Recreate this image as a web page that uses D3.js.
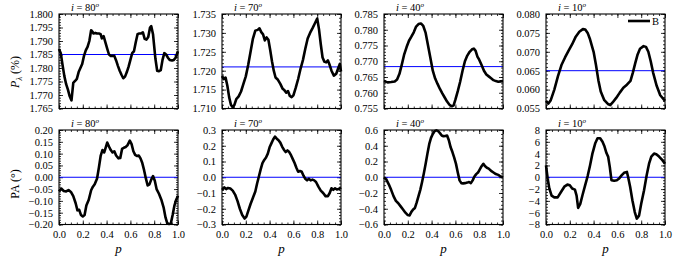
<!DOCTYPE html>
<html>
<head>
<meta charset="utf-8">
<script src="https://cdn.jsdelivr.net/npm/d3@7"></script>
<style>
  body { margin: 0; background: #fff; }
</style>
</head>
<body>
<svg id="chart" width="684" height="260"></svg>
<script>
// inclinations, one column each
const inclinations = [80, 70, 40, 10];
const xTicks = [0, 0.2, 0.4, 0.6, 0.8, 1.0];

// P_lambda (%) against phase p, [p, value]
const pol80 = [[0,1.7870],[0.015,1.7855],[0.03,1.7810],[0.045,1.7770],[0.06,1.7740],[0.075,1.7720],[0.09,1.7695],[0.105,1.7680],[0.12,1.7745],[0.135,1.7752],[0.15,1.7760],[0.165,1.7785],[0.18,1.7800],[0.195,1.7815],[0.21,1.7845],[0.225,1.7865],[0.24,1.7878],[0.255,1.7900],[0.27,1.7940],[0.28,1.7935],[0.29,1.7928],[0.305,1.7930],[0.32,1.7928],[0.335,1.7928],[0.35,1.7925],[0.36,1.7910],[0.375,1.7918],[0.39,1.7895],[0.405,1.7872],[0.42,1.7850],[0.435,1.7845],[0.45,1.7845],[0.465,1.7845],[0.48,1.7828],[0.495,1.7808],[0.51,1.7790],[0.525,1.7775],[0.54,1.7762],[0.555,1.7768],[0.57,1.7785],[0.585,1.7805],[0.6,1.7830],[0.615,1.7855],[0.63,1.7862],[0.645,1.7895],[0.66,1.7925],[0.675,1.7928],[0.69,1.7928],[0.705,1.7932],[0.72,1.7908],[0.735,1.7905],[0.75,1.7915],[0.765,1.7950],[0.775,1.7955],[0.79,1.7925],[0.8,1.7880],[0.81,1.7835],[0.825,1.7790],[0.84,1.7788],[0.855,1.7792],[0.87,1.7830],[0.885,1.7855],[0.9,1.7850],[0.915,1.7838],[0.93,1.7830],[0.95,1.7828],[0.965,1.7830],[0.98,1.7838],[1,1.7862]];
const pol70 = [[0,1.7186],[0.015,1.7178],[0.03,1.7182],[0.045,1.7160],[0.06,1.7130],[0.075,1.7110],[0.09,1.7103],[0.105,1.7110],[0.12,1.7125],[0.14,1.7132],[0.16,1.7145],[0.18,1.7165],[0.2,1.7185],[0.22,1.7215],[0.24,1.7250],[0.26,1.7285],[0.28,1.7306],[0.3,1.7308],[0.315,1.7312],[0.33,1.7302],[0.345,1.7296],[0.36,1.7280],[0.375,1.7288],[0.39,1.7282],[0.405,1.7255],[0.42,1.7225],[0.435,1.7200],[0.45,1.7182],[0.47,1.7176],[0.49,1.7165],[0.51,1.7152],[0.525,1.7148],[0.54,1.7142],[0.555,1.7146],[0.57,1.7133],[0.585,1.7130],[0.6,1.7135],[0.62,1.7155],[0.64,1.7178],[0.66,1.7205],[0.68,1.7228],[0.7,1.7258],[0.72,1.7285],[0.74,1.7300],[0.76,1.7312],[0.78,1.7325],[0.8,1.7338],[0.815,1.7310],[0.83,1.7270],[0.845,1.7235],[0.86,1.7224],[0.875,1.7222],[0.89,1.7227],[0.905,1.7215],[0.92,1.7200],[0.94,1.7187],[0.96,1.7192],[0.975,1.7205],[0.99,1.7218],[1,1.7198]];
const pol40 = [[0,0.7637],[0.03,0.7633],[0.06,0.7634],[0.09,0.7636],[0.11,0.7642],[0.13,0.7660],[0.15,0.7690],[0.17,0.7722],[0.19,0.7745],[0.21,0.7765],[0.23,0.7778],[0.25,0.7792],[0.27,0.7810],[0.29,0.7818],[0.31,0.7820],[0.33,0.7812],[0.35,0.7790],[0.37,0.7750],[0.39,0.7710],[0.41,0.7670],[0.43,0.7645],[0.45,0.7628],[0.47,0.7612],[0.49,0.7598],[0.51,0.7585],[0.53,0.7572],[0.55,0.7562],[0.57,0.7557],[0.585,0.7560],[0.6,0.7578],[0.62,0.7605],[0.64,0.7635],[0.66,0.7670],[0.68,0.7700],[0.7,0.7718],[0.72,0.7730],[0.74,0.7738],[0.755,0.7740],[0.77,0.7733],[0.785,0.7715],[0.8,0.7705],[0.82,0.7688],[0.84,0.7670],[0.86,0.7658],[0.88,0.7652],[0.9,0.7646],[0.92,0.7640],[0.94,0.7637],[0.96,0.7635],[0.98,0.7636],[1,0.7637]];
const pol10 = [[0,0.0570],[0.02,0.0563],[0.04,0.0572],[0.07,0.0600],[0.1,0.0635],[0.13,0.0665],[0.16,0.0685],[0.19,0.0703],[0.22,0.0720],[0.25,0.0740],[0.28,0.0753],[0.31,0.0760],[0.33,0.0759],[0.35,0.0750],[0.37,0.0733],[0.4,0.0700],[0.42,0.0665],[0.44,0.0625],[0.46,0.0595],[0.49,0.0572],[0.52,0.0562],[0.54,0.0559],[0.56,0.0566],[0.59,0.0578],[0.62,0.0592],[0.65,0.0605],[0.68,0.0613],[0.71,0.0623],[0.73,0.0645],[0.75,0.0670],[0.77,0.0693],[0.79,0.0708],[0.82,0.0715],[0.84,0.0713],[0.86,0.0700],[0.88,0.0675],[0.9,0.0645],[0.93,0.0610],[0.96,0.0585],[1,0.0570]];

// PA (deg) against phase p, [p, value]
const pa80 = [[0,-0.060],[0.02,-0.048],[0.04,-0.058],[0.06,-0.060],[0.08,-0.054],[0.1,-0.062],[0.12,-0.080],[0.14,-0.110],[0.155,-0.140],[0.17,-0.138],[0.185,-0.160],[0.2,-0.166],[0.215,-0.160],[0.23,-0.120],[0.25,-0.095],[0.27,-0.055],[0.285,-0.040],[0.3,-0.030],[0.32,-0.005],[0.335,0.040],[0.35,0.090],[0.365,0.115],[0.38,0.105],[0.395,0.130],[0.405,0.147],[0.42,0.130],[0.435,0.115],[0.45,0.105],[0.465,0.110],[0.48,0.092],[0.5,0.080],[0.515,0.082],[0.53,0.120],[0.545,0.125],[0.56,0.128],[0.575,0.135],[0.595,0.155],[0.61,0.140],[0.625,0.110],[0.64,0.095],[0.655,0.090],[0.67,0.092],[0.685,0.080],[0.7,0.060],[0.715,0.030],[0.73,-0.005],[0.745,-0.035],[0.76,-0.030],[0.775,-0.010],[0.79,0.005],[0.805,-0.015],[0.82,-0.050],[0.84,-0.070],[0.86,-0.095],[0.88,-0.130],[0.895,-0.170],[0.91,-0.195],[0.925,-0.198],[0.94,-0.195],[0.955,-0.160],[0.97,-0.120],[0.985,-0.095],[1,-0.078]];
const pa70 = [[0,-0.080],[0.02,-0.065],[0.035,-0.075],[0.05,-0.068],[0.07,-0.072],[0.09,-0.085],[0.11,-0.110],[0.13,-0.150],[0.15,-0.200],[0.17,-0.240],[0.19,-0.262],[0.205,-0.250],[0.22,-0.215],[0.24,-0.170],[0.26,-0.130],[0.28,-0.090],[0.295,-0.040],[0.31,0.005],[0.325,0.050],[0.34,0.090],[0.355,0.110],[0.37,0.125],[0.385,0.150],[0.4,0.190],[0.415,0.215],[0.43,0.240],[0.445,0.258],[0.46,0.245],[0.475,0.235],[0.49,0.220],[0.505,0.195],[0.52,0.175],[0.535,0.160],[0.55,0.170],[0.565,0.160],[0.58,0.140],[0.595,0.115],[0.61,0.090],[0.625,0.060],[0.64,0.035],[0.655,0.040],[0.67,0.035],[0.685,0.010],[0.7,-0.010],[0.715,-0.020],[0.73,-0.010],[0.745,-0.020],[0.76,-0.015],[0.775,-0.020],[0.79,-0.030],[0.81,-0.060],[0.83,-0.085],[0.85,-0.100],[0.87,-0.120],[0.89,-0.120],[0.905,-0.100],[0.92,-0.070],[0.935,-0.080],[0.95,-0.070],[0.965,-0.078],[0.98,-0.075],[1,-0.065]];
const pa40 = [[0,0.00],[0.02,-0.03],[0.04,-0.09],[0.06,-0.16],[0.08,-0.24],[0.1,-0.30],[0.12,-0.33],[0.14,-0.37],[0.16,-0.41],[0.18,-0.45],[0.2,-0.48],[0.215,-0.485],[0.23,-0.44],[0.245,-0.41],[0.26,-0.39],[0.275,-0.32],[0.29,-0.24],[0.305,-0.16],[0.32,-0.06],[0.335,0.05],[0.35,0.17],[0.365,0.30],[0.38,0.42],[0.395,0.50],[0.41,0.55],[0.425,0.585],[0.44,0.595],[0.455,0.585],[0.47,0.56],[0.485,0.53],[0.5,0.52],[0.515,0.525],[0.53,0.53],[0.545,0.47],[0.56,0.38],[0.575,0.32],[0.59,0.25],[0.605,0.17],[0.62,0.06],[0.635,-0.04],[0.65,-0.075],[0.665,-0.078],[0.68,-0.075],[0.7,-0.068],[0.715,-0.06],[0.73,-0.075],[0.745,-0.04],[0.76,0.01],[0.775,0.04],[0.79,0.06],[0.805,0.10],[0.82,0.14],[0.835,0.17],[0.85,0.14],[0.865,0.12],[0.88,0.11],[0.9,0.08],[0.92,0.06],[0.94,0.04],[0.96,0.03],[0.98,0.01],[1,0.00]];
const pa10 = [[0,2.0],[0.014,-0.2],[0.028,-1.9],[0.047,-3.1],[0.07,-3.4],[0.098,-3.4],[0.126,-2.5],[0.154,-1.6],[0.18,-1.25],[0.2,-1.35],[0.22,-1.9],[0.243,-2.1],[0.257,-3.1],[0.27,-5.2],[0.288,-4.5],[0.307,-3.0],[0.327,-1.5],[0.35,0.2],[0.37,2.0],[0.39,4.0],[0.413,5.7],[0.433,6.6],[0.455,6.6],[0.475,6.0],[0.49,5.3],[0.508,4.1],[0.522,3.5],[0.536,1.75],[0.55,-0.5],[0.573,-0.6],[0.595,-0.5],[0.615,-0.2],[0.637,0.35],[0.656,0.75],[0.68,0.9],[0.69,0.05],[0.707,-1.6],[0.726,-3.9],[0.746,-5.9],[0.763,-7.0],[0.782,-6.5],[0.8,-4.5],[0.824,-2.2],[0.846,0.35],[0.866,2.3],[0.885,3.5],[0.908,4.0],[0.927,3.9],[0.95,3.5],[0.978,2.9],[1,2.3]];

// axis ranges, tick steps and mean (blue) levels
const polDomains = [[1.765, 1.800], [1.710, 1.735], [0.755, 0.785], [0.055, 0.080]];
const paDomains = [[-0.2, 0.2], [-0.3, 0.3], [-0.6, 0.6], [-8, 8]];
const polSteps = [0.005, 0.005, 0.005, 0.005];
const paSteps = [0.05, 0.1, 0.2, 2];
const polMeans = [1.785, 1.721, 0.7683, 0.0650];
const paMeans = [0, 0, 0, 0];

const FONT = "'Liberation Serif', 'DejaVu Serif', 'Times New Roman', serif";
const svg = d3.select("#chart").style("font-family", FONT);
const lefts = [59, 222, 384, 546];
const tops = [14, 130];
const w = 119, h = 94.5;

function tickRange(d, step) {
  const n = Math.round((d[1] - d[0]) / step);
  return d3.range(n + 1).map(i => +(d[0] + i * step).toFixed(6));
}

function drawPanel(row, col, data, domain, step, minorDivs, fmt, mean) {
  const g = svg.append("g").attr("transform", "translate(" + lefts[col] + "," + tops[row] + ")");
  const x = d3.scaleLinear().domain([0, 1]).range([0, w]);
  const y = d3.scaleLinear().domain(domain).range([h, 0]);

  const major = tickRange(domain, step);
  const minor = tickRange(domain, step / minorDivs);
  const xMinor = tickRange([0, 1], 0.05);

  // inward ticks on all four sides
  const sides = [
    [d3.axisLeft(y), 0, 0, major, minor, fmt],
    [d3.axisRight(y), w, 0, major, minor, null],
    [d3.axisTop(x), 0, 0, xTicks, xMinor, null],
    [d3.axisBottom(x), 0, h, xTicks, xMinor, row === 1 ? d3.format(".1f") : null]
  ];
  sides.forEach(([ax, tx, ty, mj, mn, lab]) => {
    g.append("g").attr("transform", "translate(" + tx + "," + ty + ")")
      .call(ax.tickValues(mn).tickSize(-2).tickFormat(""))
      .call(a => a.select(".domain").remove())
      .selectAll("line").attr("stroke", "#000").attr("stroke-width", 0.8);
    const a2 = g.append("g").attr("transform", "translate(" + tx + "," + ty + ")")
      .call(ax.tickValues(mj).tickSize(-4).tickPadding(6).tickFormat(lab || ""));
    a2.attr("font-family", null);
    a2.select(".domain").remove();
    a2.selectAll("line").attr("stroke", "#000").attr("stroke-width", 0.8);
    a2.selectAll("text").attr("fill", "#000")
      .style("font-family", FONT).style("font-size", "10.5px");
  });

  // mean level
  g.append("line")
    .attr("x1", 0).attr("x2", w)
    .attr("y1", y(mean)).attr("y2", y(mean))
    .attr("stroke", "#0000ff").attr("stroke-width", 1);

  // curve
  g.append("path")
    .datum(data)
    .attr("fill", "none")
    .attr("stroke", "#000")
    .attr("stroke-width", 2.6)
    .attr("stroke-linejoin", "round")
    .attr("d", d3.line().x(d => x(d[0])).y(d => y(d[1])));

  g.append("rect").attr("width", w).attr("height", h)
    .attr("fill", "none").attr("stroke", "#000").attr("stroke-width", 1.1);

  // panel title i = ..°
  const t = g.append("text").attr("x", 12).attr("y", -3)
    .style("font-family", FONT).style("font-size", "10.5px");
  t.append("tspan").attr("font-style", "italic").text("i");
  t.append("tspan").text(" = " + inclinations[col]);
  t.append("tspan").attr("font-style", "italic").style("font-size", "7px").attr("dy", -4).text("o");

  return g;
}

const polData = [pol80, pol70, pol40, pol10];
const paData = [pa80, pa70, pa40, pa10];
const polMinor = [5, 5, 5, 5];
const paMinor = [5, 5, 4, 4];
const paFmt = [d3.format(".2f"), d3.format(".1f"), d3.format(".1f"), d3.format("d")];

let lastTop;
inclinations.forEach((inc, c) => {
  const gt = drawPanel(0, c, polData[c], polDomains[c], polSteps[c], polMinor[c], d3.format(".3f"), polMeans[c]);
  if (c === 3) lastTop = gt;
  const gb = drawPanel(1, c, paData[c], paDomains[c], paSteps[c], paMinor[c], paFmt[c], paMeans[c]);
  // x label p
  gb.append("text").attr("x", w / 2).attr("y", h + 28).attr("text-anchor", "middle")
    .style("font-family", FONT).style("font-size", "13px").attr("font-style", "italic").text("p");
});

// legend in last top panel
lastTop.append("line").attr("x1", 82).attr("x2", 104).attr("y1", 7).attr("y2", 7)
  .attr("stroke", "#000").attr("stroke-width", 2.6);
lastTop.append("text").attr("x", 106).attr("y", 10.5)
  .style("font-family", FONT).style("font-size", "10.5px").text("B");

// y labels
const yl1 = svg.append("text").attr("transform", "translate(19,72) rotate(-90)")
  .attr("text-anchor", "middle").style("font-family", FONT).style("font-size", "12px");
yl1.append("tspan").attr("font-style", "italic").text("P");
yl1.append("tspan").attr("font-style", "italic").style("font-size", "8px").attr("dy", 3).text("λ");
yl1.append("tspan").attr("dy", -3).text(" (%)");

svg.append("text").attr("transform", "translate(19,184) rotate(-90)")
  .attr("text-anchor", "middle").style("font-family", FONT).style("font-size", "12px").text("PA (°)");
</script>
</body>
</html>
